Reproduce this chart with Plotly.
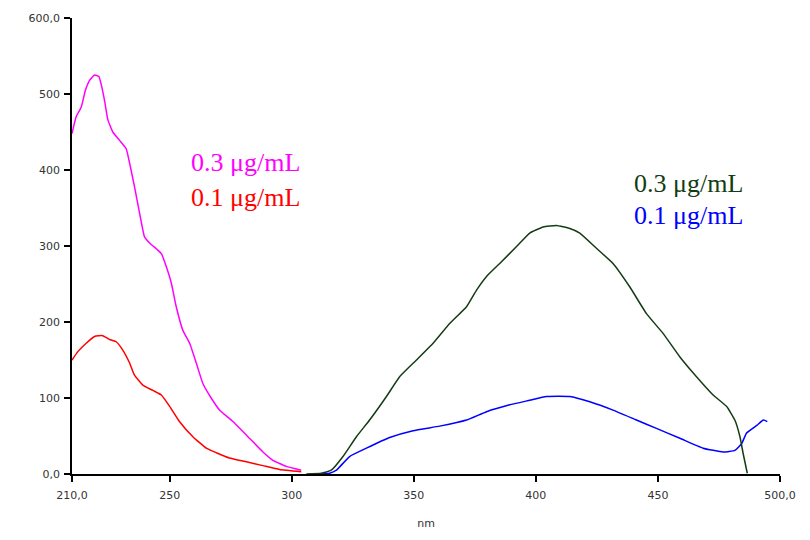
import plotly.graph_objects as go

# Spectra: wavelength (nm) and intensity for each concentration
magenta_nm = [210.0, 211.7, 213.8, 215.5, 217.2, 219.2, 221.0, 222.0, 223.3, 224.7, 226.7,
              229.5, 232.2, 233.6, 235.6, 237.7, 239.7, 241.8, 245.0, 246.6, 248.6, 250.7,
              252.7, 255.4, 258.2, 260.9, 263.6, 267.0, 270.5, 275.9, 282.7, 288.2, 292.3,
              297.8, 303.9]
magenta_val = [448, 470, 483, 505, 518, 525, 523, 512, 492, 466, 450,
               439, 428, 409, 378, 343, 312, 304, 295, 290, 273, 251,
               220, 189, 172, 146, 119, 100, 84, 69, 47, 29, 18,
               10, 5]

red_nm = [210.0, 212.4, 215.8, 219.2, 222.6, 225.4, 228.1, 230.8, 233.6, 235.6, 239.0,
          243.1, 246.6, 250.0, 254.0, 259.5, 265.0, 269.1, 274.5, 281.4, 288.2, 295.0,
          303.9]
red_val = [150, 161, 172, 181, 182, 177, 174, 163, 146, 130, 117,
           110, 104, 89, 69, 49, 34, 28, 21, 16, 11, 6,
           3]

green_nm = [306.0, 312.1, 316.2, 321.0, 326.5, 331.9, 338.8, 344.2, 351.1, 357.9, 364.7,
            371.6, 375.7, 379.8, 385.2, 392.0, 397.5, 403.0, 408.4, 413.9, 418.0, 424.8,
            431.6, 438.5, 445.3, 452.1, 459.0, 465.8, 472.6, 478.1, 481.5, 483.6, 484.9,
            486.6]
green_val = [0, 1, 5, 23, 49, 71, 102, 128, 150, 172, 198,
             220, 242, 260, 277, 299, 317, 325, 327, 323, 317, 297,
             277, 246, 211, 185, 154, 128, 104, 89, 71, 49, 27,
             1]

blue_nm = [312.0, 315.5, 318.3, 323.7, 330.6, 340.1, 349.7, 360.6, 371.6, 379.8, 389.3,
           397.5, 404.3, 413.9, 422.1, 431.6, 441.2, 449.4, 459.0, 468.5, 476.7, 481.5,
           484.3, 486.3, 490.5, 493.2, 494.8]
blue_val = [0, 1, 5, 23, 34, 48, 57, 63, 71, 82, 91,
            97, 102, 102, 95, 84, 71, 60, 47, 34, 29, 31,
            40, 54, 64, 71, 69]

x_ticks = [210, 250, 300, 350, 400, 450, 500]
x_tick_text = ["210,0", "250", "300", "350", "400", "450", "500,0"]
y_ticks = [0, 100, 200, 300, 400, 500, 600]
y_tick_text = ["0,0", "100", "200", "300", "400", "500", "600,0"]

series = [
    (magenta_nm, magenta_val, "#ff00ff"),
    (red_nm, red_val, "#ff0000"),
    (blue_nm, blue_val, "#0000ff"),
    (green_nm, green_val, "#143c14"),
]

fig = go.Figure()
for xs, ys, col in series:
    fig.add_trace(go.Scatter(x=xs, y=ys, mode="lines",
                             line=dict(color=col, width=1.5, shape="spline", smoothing=0.4),
                             hoverinfo="skip", showlegend=False))

# Concentration labels, placed in axis units (wavelength, intensity)
label_font = "Liberation Serif, Times New Roman, serif"
labels = [
    (258.0, 410, "0.3 μg/mL", "#ff00ff"),
    (258.0, 364, "0.1 μg/mL", "#ff0000"),
    (439.5, 382, "0.3 μg/mL", "#143c14"),
    (439.5, 340, "0.1 μg/mL", "#0000ff"),
]
for lx, ly, txt, col in labels:
    fig.add_annotation(x=lx, y=ly, xref="x", yref="y", text=txt, showarrow=False,
                       xanchor="left", yanchor="middle",
                       font=dict(family=label_font, size=26, color=col))

tick_font = dict(family="DejaVu Sans, Liberation Sans, sans-serif", size=11, color="#333333")

fig.update_layout(
    width=810, height=540,
    margin=dict(l=72, r=30, t=18, b=66),
    paper_bgcolor="white", plot_bgcolor="white",
    xaxis=dict(range=[210, 500], tickvals=x_ticks, ticktext=x_tick_text,
               showgrid=False, zeroline=False, showline=True, linecolor="black",
               linewidth=1.5, ticks="outside", ticklen=6, tickwidth=1.5,
               tickcolor="black", tickfont=tick_font, ticklabelstandoff=4,
               title=dict(text="nm", font=tick_font, standoff=18)),
    yaxis=dict(range=[0, 600], tickvals=y_ticks, ticktext=y_tick_text,
               showgrid=False, zeroline=False, showline=True, linecolor="black",
               linewidth=1.5, ticks="outside", ticklen=6, tickwidth=1.5,
               tickcolor="black", tickfont=tick_font, ticklabelstandoff=2),
)

fig.write_html("out.html")
